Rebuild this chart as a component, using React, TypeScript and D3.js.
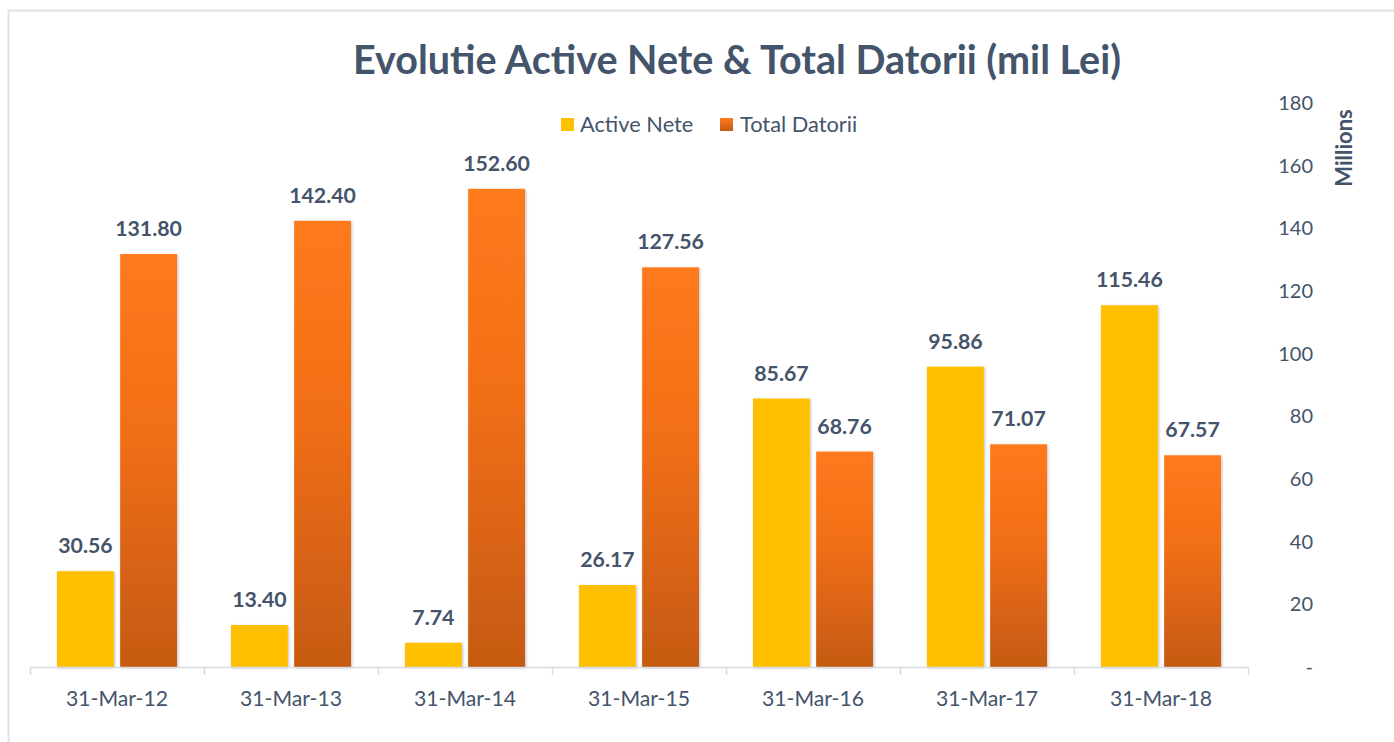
import React from "react";
import * as d3 from "d3";

const categories = ["31-Mar-12", "31-Mar-13", "31-Mar-14", "31-Mar-15", "31-Mar-16", "31-Mar-17", "31-Mar-18"];
const activeNete = [30.56, 13.4, 7.74, 26.17, 85.67, 95.86, 115.46];
const totalDatorii = [131.8, 142.4, 152.6, 127.56, 68.76, 71.07, 67.57];
const yTicks = [0, 20, 40, 60, 80, 100, 120, 140, 160, 180];
const seriesNames = ["Active Nete", "Total Datorii"];

const W = 1394;
const H = 742;
const TEXT = "#44546A";
const FONT = "Lato, 'Open Sans', sans-serif";

export default function App() {
  const x = d3.scaleBand<string>().domain(categories).range([30, 1248]).paddingInner(0).paddingOuter(0);
  const inner = d3.scaleBand<string>().domain(seriesNames).range([27, x.bandwidth() - 27]).paddingInner(0.1);
  const y = d3.scaleLinear().domain([0, 180]).range([667, 103]);
  const series = [activeNete, totalDatorii];

  return (
    <svg width={W} height={H} style={{ position: "absolute", left: 0, top: 0, background: "#fff" }} fontFamily={FONT}>
      <defs>
        <linearGradient id="orangeGrad" x1="0" y1="0" x2="0" y2="1">
          <stop offset="0" stopColor="#FF7A1C" />
          <stop offset="0.45" stopColor="#F06E16" />
          <stop offset="1" stopColor="#C55A11" />
        </linearGradient>
        <linearGradient id="orangeLegend" x1="0" y1="0" x2="0" y2="1">
          <stop offset="0" stopColor="#FF7A1C" />
          <stop offset="1" stopColor="#C55A11" />
        </linearGradient>
        <filter id="shadow" x="-20%" y="-5%" width="140%" height="110%">
          <feDropShadow dx="1" dy="1" stdDeviation="1.5" floodColor="#000" floodOpacity="0.25" />
        </filter>
      </defs>
      <rect x={0} y={0} width={W} height={H} fill="#fff" />
      {/* chart border */}
      <path d={`M8.5,742 L8.5,10.5 L1394,10.5`} fill="none" stroke="#DEE2EA" strokeWidth={2} />

      <text x={737} y={74} textAnchor="middle" fontSize={39.5} fontWeight={700} fill={TEXT}>
        Evolutie Active Nete &amp; Total Datorii (mil Lei)
      </text>

      {/* legend */}
      <rect x={561} y={118} width={13} height={13} fill="#FFC000" />
      <text x={580} y={132} fontSize={21.8} fill={TEXT}>{seriesNames[0]}</text>
      <rect x={720} y={118} width={13} height={13} fill="url(#orangeLegend)" />
      <text x={740} y={132} fontSize={21.8} fill={TEXT}>{seriesNames[1]}</text>

      {/* right axis labels */}
      {yTicks.map((t) => (
        <text key={t} x={1313} y={y(t) + 7} textAnchor="end" fontSize={20} fill={TEXT}>
          {t === 0 ? "-" : t}
        </text>
      ))}
      <text transform={`translate(1352,148) rotate(-90)`} textAnchor="middle" fontSize={22} fontWeight={700} fill={TEXT}>
        Millions
      </text>

      {/* bars */}
      {categories.map((c, i) => (
        <g key={c} transform={`translate(${x(c)},0)`}>
          {series.map((s, k) => {
            const bx = inner(seriesNames[k])!;
            const bw = inner.bandwidth();
            return (
              <g key={k}>
                <rect
                  x={bx}
                  y={y(s[i])}
                  width={bw}
                  height={y(0) - y(s[i])}
                  fill={k === 0 ? "#FFC000" : "url(#orangeGrad)"}
                  filter="url(#shadow)"
                />
                <text x={bx + bw / 2} y={y(s[i]) - 18} textAnchor="middle" fontSize={21.3} fontWeight={700} fill={TEXT}>
                  {s[i].toFixed(2)}
                </text>
              </g>
            );
          })}
        </g>
      ))}

      {/* x axis */}
      <line x1={30} x2={1248} y1={667.5} y2={667.5} stroke="#D9DCE3" strokeWidth={1.5} />
      {[...categories.map((c) => x(c)!), 1248].map((v, i) => (
        <line key={i} x1={v + 0.5} x2={v + 0.5} y1={667} y2={675} stroke="#D9DCE3" strokeWidth={1.5} />
      ))}
      {categories.map((c) => (
        <text key={c} x={x(c)! + x.bandwidth() / 2} y={706} textAnchor="middle" fontSize={21.2} fill={TEXT}>
          {c}
        </text>
      ))}
    </svg>
  );
}
